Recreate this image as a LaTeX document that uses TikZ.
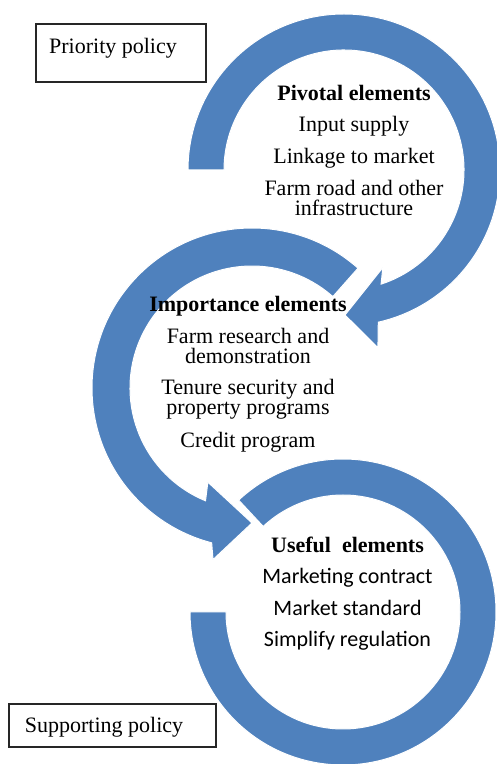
\documentclass[tikz,border=0pt]{standalone}
\usepackage{fontspec}
\setmainfont{Liberation Serif}
\newfontfamily\calibrifont{Carlito}
\definecolor{ringblue}{RGB}{79,129,189}

\begin{document}
\begin{tikzpicture}[x=1pt,y=1pt,
	ring/.style={fill=ringblue, draw=white, line width=1pt},
	policy/.style={draw=black!85, line width=1.2pt},
	policytext/.style={font={\fontsize{22}{24}\selectfont}},
	elements/.style={align=center, inner sep=0pt, anchor=north, font={\fontsize{22}{20}\selectfont}}]
	
	%Background
	\useasboundingbox (0,0) rectangle (497,764);
	\fill[white] (0,0) rectangle (497,764);
	
	%Rings
	%Useful
	\begin{scope}[shift={(343,152)}]
	\filldraw[ring] (133:153) arc[start angle=133, end angle=-180, radius=153] -- (180:117) arc[start angle=-180, end angle=133, radius=117] -- cycle;
	\end{scope}
	
	%Importance
	\begin{scope}[shift={(252,376)}]
	\filldraw[ring] (48.5:160) arc[start angle=48.5, end angle=255.4, radius=160] -- (257.2:176) -- (270:135) -- (244.9:104) -- (247.6:122) arc[start angle=247.6, end angle=48.5, radius=122] -- cycle;
	\end{scope}
	
	%Pivotal
	\begin{scope}[shift={(344,594)}]
	\filldraw[ring] (180:156) arc[start angle=180, end angle=-77.3, radius=156] -- (-79.2:181) -- (-89.6:145) -- (-68.3:105) -- (-72:120) arc[start angle=-72, end angle=180, radius=120] -- cycle;
	\end{scope}
	
	%Texts
	\node[elements] (pivotal) at (354,679) {\textbf{Pivotal elements}\\[11pt] Input supply\\[11pt] Linkage to market\\[11pt] Farm road and other\\ infrastructure};
	\node[elements] (importance) at (248,468) {\textbf{Importance elements}\\[12pt] Farm research and\\ demonstration\\[11pt] Tenure security and\\ property programs\\[12pt] Credit program};
	\node[elements] (useful) at (347.5,227) {\textbf{Useful\ \ elements}\\[11pt] \calibrifont Marketing contract\\[12pt] \calibrifont Market standard\\[11pt] \calibrifont Simplify regulation};
	
	%Policies
	\draw[policy] (36,682) rectangle (206,740);
	\node[policytext] (priority) at (113,716) {Priority policy};
	
	\draw[policy] (9,17) rectangle (216,60);
	\node[policytext] (supporting) at (104,37) {Supporting policy};
	
\end{tikzpicture}
\end{document}
